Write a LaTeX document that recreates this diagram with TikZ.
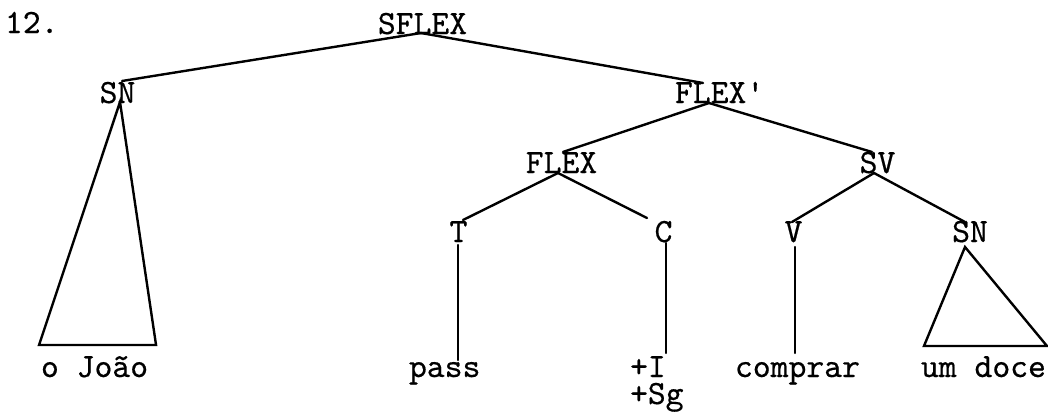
\documentclass[tikz,border=0pt]{standalone}
\usepackage{fontspec}
\setmonofont[FakeBold=0.5]{lmmono10-regular.otf}
\usetikzlibrary{calc}
\begin{document}
\begin{tikzpicture}[x=1pt,y=-1pt,
  lbl/.style={inner sep=0pt,outer sep=0pt,anchor=base,
    font=\ttfamily\fontsize{34}{40}\selectfont},
  word/.style={lbl,anchor=base west},
  branch/.style={line width=2.4pt,line join=miter,line cap=round}]
\useasboundingbox (0,0) rectangle (1048,413);

% example number
\node[word] (num) at (5,33) {12.};

% category labels
\node[lbl]  (sflex) at (422.5,34)  {SFLEX};
\node[lbl]  (sna)   at (117.5,103) {SN};
\node[word] (flexp) at (675,103)   {FLEX'};
\node[lbl]  (flex)  at (561.5,173) {FLEX};
\node[lbl]  (sv)    at (877.5,173) {SV};
\node[lbl]  (t)     at (458.5,242) {T};
\node[lbl]  (c)     at (663.5,242) {C};
\node[lbl]  (v)     at (793.5,242) {V};
\node[lbl]  (snb)   at (970,242)   {SN};

% terminal strings
\node[word] (joao)    at (41,377)  {o João};
\node[word] (pass)    at (409,377) {pass};
\node[word] (pI)      at (630,377) {+I};
\node[word] (pSg)     at (630,404) {+Sg};
\node[word] (comprar) at (735,377) {comprar};
\node[word] (doce)    at (921,377) {um doce};

% branches
\draw[branch] ($(sflex.base)+(-1.5pt,1pt)$) -- ($(sna.base)+(4.5pt,22pt)$);
\draw[branch] ($(sflex.base)+(-1.5pt,1pt)$) -- ($(flexp.base)+(-16.6pt,20pt)$);
\draw[branch] ($(flexp.base)+(-10.6pt,0pt)$) -- ($(flex.base)+(1.5pt,21pt)$);
\draw[branch] ($(flexp.base)+(-10.6pt,0pt)$) -- ($(sv.base)+(-5.5pt,21pt)$);
\draw[branch] ($(flex.base)+(-3.5pt,0pt)$) -- ($(t.base)+(4.5pt,22pt)$);
\draw[branch] ($(flex.base)+(-3.5pt,0pt)$) -- ($(c.base)+(-16.5pt,24pt)$);
\draw[branch] ($(sv.base)+(-3.5pt,0pt)$) -- ($(v.base)+(-1.5pt,20pt)$);
\draw[branch] ($(sv.base)+(-3.5pt,0pt)$) -- ($(snb.base)+(-5pt,20pt)$);

% unary branches down to the terminals
\draw[branch] ($(t.base)+(-0.5pt,-3pt)$) -- ($(t.base |- pass.base)+(-0.5pt,17pt)$);
\draw[branch] ($(c.base)+(2.5pt,-1pt)$) -- ($(c.base |- pI.base)+(2.5pt,24pt)$);
\draw[branch] ($(v.base)+(1.5pt,-5pt)$) -- ($(v.base |- comprar.base)+(1.5pt,24pt)$);

% triangles over unanalysed phrases
\draw[branch] ($(sna.base)+(2.5pt,1pt)$) -- ($(joao.base)+(-55.5pt,32pt)$)
  -- ($(joao.base)+(61.5pt,32pt)$) -- cycle;
\draw[branch] ($(snb.base)+(-5pt,-5pt)$) -- ($(doce.base)+(-59.5pt,31pt)$)
  -- ($(doce.base)+(63.5pt,31pt)$) -- cycle;
\end{tikzpicture}
\end{document}
